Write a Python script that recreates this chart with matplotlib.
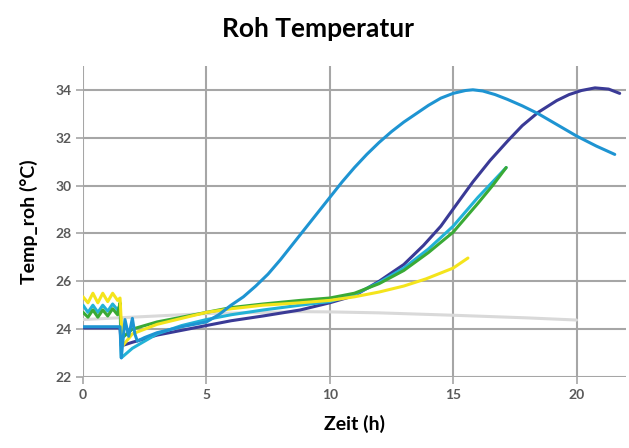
import matplotlib
matplotlib.use("Agg")
import matplotlib.pyplot as plt

plt.rcParams['font.family'] = ['Lato', 'DejaVu Sans']

# hours / temperatures
sky_x = [0, 1.5, 1.55, 1.7, 1.85, 2.0, 2.1, 2.2, 2.5, 3, 4, 5, 5.5, 6, 6.5, 7, 7.5, 8, 8.5, 9,
         9.5, 10, 10.5, 11, 11.5, 12, 12.5, 13, 13.5, 14, 14.5, 15, 15.5, 15.8, 16.2, 16.7, 17.2,
         17.8, 18.45, 19.2, 20, 20.8, 21.55]
sky_y = [24.1, 24.1, 22.8, 24.4, 23.7, 24.45, 23.8, 23.5, 23.65, 23.85, 24.1, 24.3, 24.6, 25.0,
         25.35, 25.8, 26.3, 26.9, 27.55, 28.2, 28.85, 29.5, 30.15, 30.75, 31.3, 31.8, 32.25,
         32.65, 33.0, 33.35, 33.65, 33.85, 33.97, 34.0, 33.95, 33.8, 33.6, 33.33, 33.0, 32.55,
         32.07, 31.65, 31.3]

navy_x = [0, 1.5, 1.55, 2, 3, 4, 5, 6, 7.3, 8.8, 10, 11, 12, 13, 13.8, 14.5, 15.2, 15.8, 16.5,
          17.2, 17.8, 18.45, 19.2, 19.7, 20.2, 20.75, 21.3, 21.75]
navy_y = [24.05, 24.05, 23.3, 23.45, 23.75, 23.95, 24.15, 24.35, 24.55, 24.8, 25.1, 25.4, 26.0,
          26.7, 27.5, 28.3, 29.3, 30.15, 31.05, 31.85, 32.5, 33.06, 33.55, 33.8, 33.97, 34.08,
          34.03, 33.85]

cyan_x = [0, 0.2, 0.4, 0.6, 0.8, 1.0, 1.2, 1.4, 1.5, 1.55, 2, 3, 4, 5, 6, 7.3, 8.8, 10, 11,
          12, 13, 14, 15, 16, 16.6, 17.15]
cyan_y = [25.0, 24.7, 25.0, 24.7, 25.0, 24.75, 25.05, 24.8, 25.0, 22.8, 23.2, 23.8, 24.15, 24.4,
          24.6, 24.8, 25.0, 25.15, 25.45, 25.95, 26.55, 27.35, 28.3, 29.5, 30.15, 30.75]

green_x = [0, 0.2, 0.4, 0.6, 0.8, 1.0, 1.2, 1.4, 1.5, 1.55, 2, 3, 4, 5, 6, 7.3, 8.8, 10, 11,
           12, 13, 14, 15, 16, 16.6, 17.15]
green_y = [24.7, 24.5, 24.8, 24.5, 24.8, 24.55, 24.85, 24.6, 25.1, 23.6, 24.0, 24.3, 24.5, 24.7,
           24.9, 25.05, 25.2, 25.3, 25.5, 25.9, 26.45, 27.2, 28.05, 29.25, 30.0, 30.75]

yellow_x = [0, 0.2, 0.4, 0.6, 0.8, 1.0, 1.2, 1.4, 1.5, 1.6, 2, 3, 4, 5, 6, 7.3, 8.8, 10, 11,
            12, 13, 13.9, 15, 15.6]
yellow_y = [25.35, 25.1, 25.5, 25.1, 25.5, 25.15, 25.5, 25.2, 25.3, 23.3, 23.8, 24.2, 24.45, 24.7,
            24.85, 25.0, 25.1, 25.2, 25.35, 25.55, 25.8, 26.1, 26.55, 26.97]

gray_x = [0, 2, 5, 8.8, 10, 12, 15, 18, 20]
gray_y = [24.4, 24.5, 24.65, 24.73, 24.72, 24.68, 24.58, 24.47, 24.38]

series = [
    (gray_x, gray_y, '#d9d9d9'),
    (navy_x, navy_y, '#3a3a96'),
    (cyan_x, cyan_y, '#22b2d6'),
    (green_x, green_y, '#3aaa35'),
    (yellow_x, yellow_y, '#f4e41c'),
    (sky_x, sky_y, '#1e94d2'),
]

fig = plt.figure(figsize=(6.29, 4.48), dpi=100)
ax = fig.add_axes([0.132, 0.1585, 0.863, 0.6945])

for xs, ys, c in series:
    ax.plot(xs, ys, color=c, lw=2.2, solid_capstyle='round', solid_joinstyle='round', zorder=3)

ax.set_xlim(0, 22)
ax.set_ylim(22, 35)
ax.set_xticks([0, 5, 10, 15, 20])
ax.set_yticks(range(22, 35, 2))
ax.grid(True, color='#a6a6a6', lw=1.5)
ax.set_axisbelow(True)
for s in ax.spines.values():
    s.set_visible(False)
ax.tick_params(colors='#a6a6a6', length=5, width=1.2, labelcolor='#595959', labelsize=10)
for lab in ax.get_xticklabels() + ax.get_yticklabels():
    lab.set_fontweight('bold')

fig.text(0.505, 0.935, 'Roh Temperatur', fontsize=19, fontweight='bold',
         ha='center', va='center')
ax.set_xlabel('Zeit (h)', fontsize=14, fontweight='bold', labelpad=10)
ax.set_ylabel('Temp_roh (°C)', fontsize=14, fontweight='bold', labelpad=12)

fig.savefig('out.png', dpi=100)
